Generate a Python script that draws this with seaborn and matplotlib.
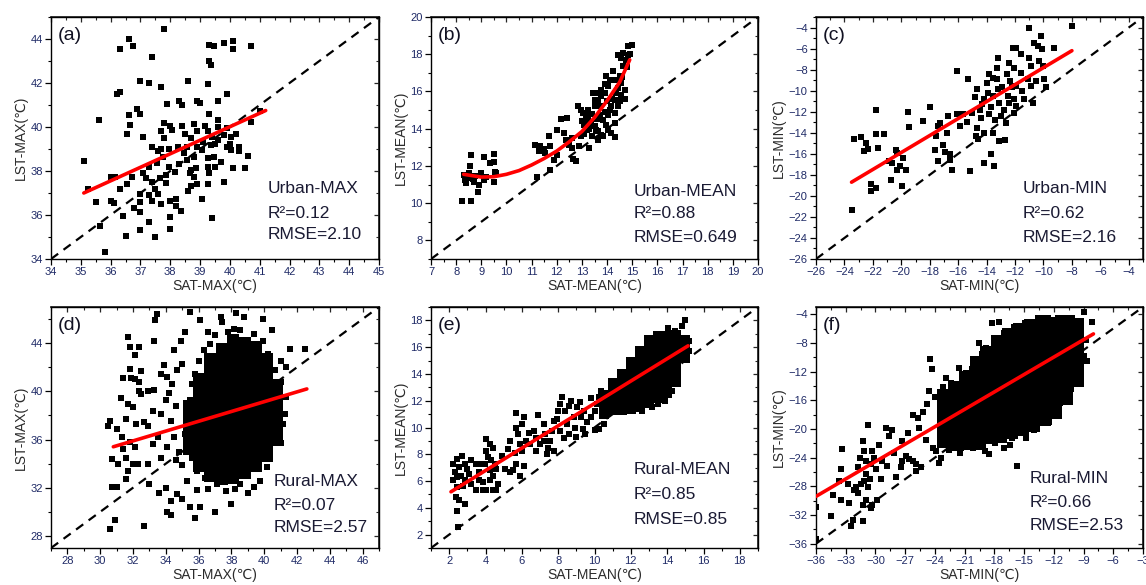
import matplotlib.pyplot as plt
import seaborn as sns
from matplotlib.ticker import MultipleLocator, AutoMinorLocator

# ---------------- data ----------------
# (a) Urban-MAX  (SAT, LST)
urban_max_pts = [
    (35.6, 40.3), (35.1, 38.45), (37.8, 44.45), (36.6, 44.0), (36.3, 43.55), (36.75, 43.7),
    (37.4, 43.2), (39.3, 43.75), (39.45, 43.7), (39.8, 43.8), (40.1, 43.9), (40.1, 43.55),
    (40.7, 43.7), (39.3, 43.0), (39.35, 42.8), (37.0, 42.1), (37.3, 42.0), (38.6, 42.1),
    (39.25, 41.95), (37.7, 41.8), (36.3, 41.6), (36.2, 41.5), (39.9, 41.5), (38.9, 41.2),
    (39.0, 41.1), (38.3, 41.2), (38.4, 41.0), (37.9, 41.05), (39.6, 41.2), (36.9, 40.8),
    (37.0, 40.6), (36.6, 40.55), (36.65, 40.1), (36.55, 39.7), (37.1, 39.55), (39.3, 40.6),
    (37.8, 40.2), (38.0, 40.05), (38.4, 40.05), (38.8, 40.15), (39.6, 40.0), (39.9, 39.95),
    (40.2, 39.7), (40.05, 39.55), (38.5, 39.7), (38.7, 39.5), (38.9, 39.1), (39.4, 39.55),
    (39.6, 39.4), (40.0, 39.25), (40.3, 39.1), (40.05, 38.95), (40.3, 38.9), (40.1, 38.15),
    (40.5, 38.15), (40.6, 38.7), (40.7, 40.25), (41.0, 40.75), (39.7, 38.4), (39.25, 38.6),
    (37.4, 39.1), (37.6, 38.9), (37.7, 39.0), (37.1, 37.9), (37.2, 37.7), (37.4, 37.5),
    (37.6, 36.95), (37.3, 36.9), (37.4, 36.65), (37.0, 36.95), (37.0, 36.6), (37.0, 36.15),
    (36.8, 36.3), (37.0, 35.3), (37.3, 35.7), (37.5, 35.0), (36.5, 35.05), (36.4, 35.95),
    (36.0, 36.65), (36.1, 36.55), (35.5, 36.6), (35.65, 35.5), (35.8, 34.3), (36.3, 37.2),
    (36.55, 37.4), (36.0, 37.75), (36.15, 37.75), (35.25, 37.2), (36.7, 37.75), (37.7, 36.5),
    (38.0, 36.65), (38.2, 36.75), (38.2, 36.4), (38.35, 36.2), (38.0, 35.9), (38.0, 35.35),
    (37.85, 37.8), (37.95, 38.2), (38.15, 37.95), (38.3, 38.3), (38.45, 38.8), (38.55, 39.1),
    (38.65, 37.9), (38.8, 37.75), (38.6, 37.1), (38.9, 37.4), (39.05, 36.75), (39.4, 35.85),
    (39.5, 39.25), (39.05, 38.95), (39.1, 39.3), (39.25, 39.8), (38.9, 39.8), (38.7, 38.05),
    (39.3, 37.9), (39.5, 38.2), (39.25, 38.2), (38.05, 39.85), (37.7, 39.8), (37.8, 39.5),
    (37.95, 39.0), (38.25, 39.1), (37.75, 38.65), (37.55, 38.35), (37.3, 38.2), (37.65, 37.7),
    (37.85, 37.45), (37.5, 37.2), (38.7, 37.3), (39.25, 37.4), (39.8, 37.5), (39.9, 39.1),
    (39.8, 39.65), (39.6, 40.3), (39.45, 38.65), (38.8, 38.65), (38.55, 38.5), (39.15, 40.05),
    (39.35, 39.2), (38.85, 38.15),
]

# (b) Urban-MEAN
urban_mean_pts = [
    (8.25, 10.1), (8.6, 10.1), (8.6, 12.6), (8.55, 12.0), (8.35, 11.25), (8.4, 11.1),
    (8.7, 11.15), (8.3, 11.5), (8.5, 11.6), (8.9, 11.0), (8.85, 10.6), (9.1, 12.5),
    (9.5, 12.65), (9.5, 12.2), (9.35, 12.15), (9.1, 11.25), (9.5, 11.15), (9.6, 11.6),
    (9.55, 11.7), (9.0, 11.6), (8.75, 11.45), (8.45, 11.35), (8.65, 11.3), (9.2, 11.4),
    (11.15, 13.1), (11.35, 13.05), (11.2, 11.4), (11.55, 12.7), (11.75, 13.05), (11.7, 13.6),
    (12.0, 13.95), (12.15, 14.5), (12.4, 14.55), (11.75, 11.8), (12.0, 12.6), (12.35, 13.4),
    (12.3, 13.75), (12.6, 13.5), (12.6, 12.95), (12.65, 12.35), (12.75, 12.25), (12.85, 15.2),
    (12.95, 15.0), (12.95, 13.6), (12.9, 13.05), (13.3, 12.95), (13.2, 13.95), (11.5, 12.9),
    (11.9, 12.3), (12.5, 13.1), (11.3, 12.8),
    (13.03, 14.84), (13.17, 14.66), (13.23, 14.48), (13.37, 14.3), (13.5, 14.12), (13.64, 13.85),
    (13.23, 15.02), (13.5, 15.2), (13.64, 15.47), (13.77, 15.73), (13.9, 15.91), (13.5, 15.56),
    (13.7, 14.75), (13.84, 14.48), (13.97, 14.21), (14.04, 13.94), (14.17, 13.76), (14.31, 13.58),
    (13.77, 13.67), (13.64, 13.4), (13.84, 13.6), (14.04, 14.75), (14.17, 15.2), (14.31, 15.56),
    (14.44, 16.18), (14.57, 16.45), (14.17, 16.63), (14.04, 16.27), (14.31, 14.84), (14.44, 15.2),
    (14.57, 15.82), (14.71, 16.09), (14.5, 16.81), (14.64, 17.35), (14.77, 17.71), (14.84, 17.97),
    (14.64, 18.06), (14.84, 18.42), (14.98, 18.51), (14.44, 17.97), (14.57, 17.8), (14.37, 15.91),
    (14.24, 17.08), (13.9, 16.4), (13.77, 16.1), (13.6, 15.9), (13.3, 14.0), (13.4, 13.6),
    (13.1, 14.2), (14.1, 15.0), (14.3, 14.3), (14.5, 15.5), (14.7, 15.6), (14.9, 18.0),
    (14.1, 16.6), (13.95, 16.85), (14.4, 16.6), (14.0, 15.5), (13.7, 15.2), (13.4, 14.8),
    (13.6, 14.5), (13.9, 14.9), (14.2, 15.6), (14.6, 16.8), (14.8, 17.3), (13.2, 14.6),
    (13.0, 14.4), (13.45, 15.9), (13.1, 13.7), (13.55, 13.95),
]

# (c) Urban-MIN
urban_min_pts = [
    (-23.5, -21.3), (-23.3, -14.6), (-22.8, -14.4), (-22.45, -15.0), (-22.35, -15.5), (-22.6, -15.75),
    (-21.75, -11.8), (-21.75, -14.15), (-21.2, -14.15), (-21.65, -15.45), (-22.1, -18.9), (-22.15, -19.55),
    (-21.8, -19.25), (-20.9, -16.7), (-20.65, -16.85), (-20.7, -18.45), (-20.4, -15.6), (-20.3, -15.9),
    (-20.3, -17.5), (-20.1, -17.2), (-19.85, -16.4), (-19.7, -17.5), (-19.95, -19.1), (-19.55, -12.0),
    (-19.45, -13.5), (-18.45, -12.9), (-18.0, -11.6), (-17.6, -15.6), (-17.55, -14.3), (-17.4, -13.35),
    (-17.25, -13.1), (-17.4, -16.7), (-17.05, -15.2), (-16.95, -15.85), (-16.8, -14.0), (-16.75, -12.4),
    (-16.6, -16.55), (-16.6, -16.0), (-16.45, -17.55), (-16.1, -8.15), (-16.05, -12.25), (-15.9, -13.35),
    (-15.3, -8.9), (-15.2, -17.65), (-15.4, -13.0), (-15.65, -12.25), (-15.05, -12.1), (-14.85, -10.65),
    (-14.7, -9.85), (-14.7, -13.55), (-14.75, -14.3), (-14.6, -14.6), (-14.5, -11.8), (-14.2, -16.85),
    (-14.15, -14.0), (-14.3, -11.3), (-14.15, -10.8), (-14.0, -9.25), (-13.8, -12.25), (-13.7, -11.6),
    (-13.55, -10.5), (-13.7, -16.05), (-13.5, -17.2), (-13.55, -14.0), (-13.85, -8.45), (-13.55, -8.75),
    (-13.2, -6.85), (-13.3, -7.8), (-13.3, -8.9), (-13.2, -9.85), (-13.1, -11.15), (-13.0, -12.4),
    (-12.75, -11.8), (-12.65, -13.05), (-12.7, -14.65), (-13.15, -14.8), (-12.6, -8.45), (-12.4, -7.35),
    (-12.35, -9.1), (-12.2, -9.7), (-12.15, -5.9), (-11.95, -5.9), (-12.05, -7.8), (-11.95, -9.55),
    (-12.05, -10.8), (-11.95, -11.45), (-12.1, -12.15), (-11.6, -6.55), (-11.6, -8.3), (-11.5, -10.0),
    (-11.35, -10.8), (-11.1, -8.9), (-11.0, -4.0), (-11.0, -6.85), (-10.9, -7.65), (-10.9, -9.55),
    (-10.75, -11.15), (-10.55, -9.1), (-10.65, -5.45), (-10.4, -5.75), (-10.2, -4.8), (-10.1, -6.05),
    (-10.05, -7.65), (-9.95, -8.9), (-9.85, -9.7), (-9.25, -5.9), (-8.0, -3.85), (-10.3, -7.2),
    (-12.9, -9.7), (-12.5, -10.5), (-12.4, -11.15), (-13.9, -10.2), (-14.4, -12.6), (-13.4, -12.8),
]

# (d) Rural-MAX: scattered points and the dense core (columns of SAT with LST rows)
rural_max_pts = [
    (33.45, 46.4), (33.35, 45.9), (35.5, 46.6), (36.1, 45.9), (37.35, 46.2), (37.45, 45.75),
    (38.3, 46.5), (38.75, 46.15), (39.95, 46.0), (40.45, 45.1), (31.7, 44.5), (31.8, 43.65),
    (32.35, 43.65), (32.1, 43.0), (33.3, 44.2), (31.8, 41.85), (31.9, 41.1), (31.4, 41.1),
    (32.1, 41.05), (32.35, 40.75), (32.5, 41.7), (32.35, 40.05), (32.5, 39.8), (32.9, 40.05),
    (33.25, 40.15), (31.25, 39.45), (31.7, 38.95), (32.0, 38.7), (31.6, 37.7), (30.6, 37.55),
    (30.5, 37.15), (31.0, 36.9), (32.2, 37.3), (32.7, 37.45), (32.9, 37.15), (33.7, 41.45),
    (34.05, 41.2), (34.2, 39.9), (34.0, 39.25), (34.5, 43.4), (34.9, 44.2), (35.0, 42.3),
    (34.7, 41.75), (30.7, 34.4), (31.1, 34.0), (31.6, 34.5), (32.0, 34.0), (32.3, 34.0),
    (30.7, 32.05), (31.0, 32.05), (31.6, 32.7), (31.7, 33.4), (32.9, 34.0), (33.0, 32.3),
    (33.6, 31.6), (34.0, 32.0), (34.3, 30.9), (34.05, 30.0), (34.3, 29.7), (30.6, 28.6),
    (30.9, 29.3), (32.7, 28.8), (34.7, 31.5), (35.0, 31.1), (35.5, 30.4), (36.1, 30.4),
    (35.8, 29.45), (37.0, 29.95), (37.95, 30.65), (33.5, 36.2), (33.2, 35.65), (33.7, 34.5),
    (34.1, 35.35), (34.5, 36.2), (33.2, 38.4), (33.7, 38.1), (34.3, 37.55), (34.6, 38.8),
    (31.3, 36.2), (31.8, 35.8), (31.4, 35.2), (32.1, 35.35), (41.05, 42.55), (41.35, 42.0),
    (41.55, 43.5), (42.5, 43.5), (41.05, 40.75), (41.35, 39.5), (41.25, 38.15), (41.15, 37.3),
    (40.35, 34.65), (40.55, 35.9), (40.15, 33.7), (39.75, 32.6), (39.35, 32.05), (38.55, 32.3),
    (37.15, 32.3), (36.4, 32.85), (35.9, 33.4), (35.6, 34.5), (35.3, 35.35), (35.2, 36.45),
    (35.3, 37.85), (35.5, 39.25), (35.6, 40.6), (35.8, 41.45), (36.0, 42.55), (36.3, 43.4),
    (36.7, 43.95), (37.0, 44.65), (38.15, 45.2), (38.55, 45.05), (39.35, 44.8), (39.95, 44.2),
    (40.25, 43.1), (40.65, 41.75), (34.8, 35.0), (35.0, 33.9), (34.6, 34.3), (36.6, 31.9),
    (37.7, 31.7), (38.2, 31.9), (39.0, 31.6), (35.9, 31.8), (35.3, 32.6), (34.4, 40.6),
    (33.9, 42.2), (35.2, 44.9), (36.6, 44.9), (37.8, 44.9), (40.7, 36.8), (41.0, 35.7),
]
rural_max_core_sat = [35.4, 36.0, 36.7, 37.4, 38.1, 38.8, 39.5, 40.2, 40.8]
rural_max_core_lst = [
    [35.2, 36.1, 37.0, 37.9, 38.8],
    [33.8, 34.7, 35.6, 36.5, 37.4, 38.3, 39.2, 40.1, 41.0],
    [33.0, 33.9, 34.8, 35.7, 36.6, 37.5, 38.4, 39.3, 40.2, 41.1, 42.0, 42.7],
    [32.7, 33.6, 34.5, 35.4, 36.3, 37.2, 38.1, 39.0, 39.9, 40.8, 41.7, 42.6, 43.5],
    [32.8, 33.7, 34.6, 35.5, 36.4, 37.3, 38.2, 39.1, 40.0, 40.9, 41.8, 42.7, 43.6, 44.3],
    [33.2, 34.1, 35.0, 35.9, 36.8, 37.7, 38.6, 39.5, 40.4, 41.3, 42.2, 43.1, 44.0],
    [33.8, 34.7, 35.6, 36.5, 37.4, 38.3, 39.2, 40.1, 41.0, 41.9, 42.8, 43.7],
    [34.6, 35.5, 36.4, 37.3, 38.2, 39.1, 40.0, 40.9, 41.8, 42.7],
    [36.0, 36.9, 37.8, 38.7, 39.6, 40.5],
]

# (e) Rural-MEAN
rural_mean_pts = [
    (2.2, 6.05), (2.3, 6.65), (2.2, 7.3), (2.45, 7.65), (2.7, 7.9), (2.55, 7.05), (2.85, 7.3),
    (2.45, 6.3), (2.65, 6.4), (2.85, 6.05), (2.45, 5.55), (2.75, 5.65), (2.35, 4.8), (2.55, 4.55),
    (2.45, 3.75), (2.85, 4.3), (2.5, 2.6), (3.2, 7.55), (3.1, 6.55), (3.2, 5.75), (3.5, 5.3),
    (3.85, 5.3), (3.65, 6.05), (3.65, 6.65), (3.95, 7.3), (4.0, 8.25), (4.05, 9.15), (4.25, 8.75),
    (4.4, 8.5), (4.15, 7.8), (4.3, 7.55), (4.5, 7.3), (4.25, 6.8), (4.4, 6.4), (4.6, 6.9),
    (3.85, 5.9), (4.25, 6.05), (4.05, 5.3), (4.4, 5.3), (4.7, 5.8), (4.6, 5.3), (3.65, 7.3),
    (3.5, 7.3), (5.05, 6.9), (5.35, 6.65), (5.5, 6.8), (5.25, 8.4), (5.35, 9.0), (5.7, 11.1),
    (5.7, 10.0), (5.8, 9.5), (6.0, 10.25), (6.1, 10.75), (5.9, 8.75), (6.0, 8.25), (5.7, 7.3),
    (6.1, 7.15), (5.9, 6.4), (6.25, 9.0), (6.45, 8.75), (6.65, 9.75), (6.8, 9.25), (6.9, 10.9),
    (7.2, 10.25), (7.3, 9.5), (7.0, 8.75), (6.8, 8.25), (7.45, 8.5), (7.55, 9.0), (7.65, 9.75),
    (7.75, 10.5), (7.95, 10.6), (7.75, 8.25), (7.4, 8.0), (8.1, 11.75), (8.2, 12.25), (8.4, 11.25),
    (8.5, 10.25), (8.6, 9.5), (8.7, 12.0), (8.1, 9.75), (8.3, 9.25), (8.85, 10.75), (9.05, 11.5),
    (8.95, 10.0), (9.25, 10.75), (9.35, 9.9), (9.5, 9.5), (9.4, 11.25), (9.6, 10.4), (9.8, 10.75),
    (10.0, 11.25), (10.15, 11.75), (10.25, 12.25), (10.35, 12.75), (10.25, 9.9), (10.55, 10.25),
    (10.7, 11.0), (10.9, 11.75), (10.9, 13.0), (11.1, 13.25), (10.7, 12.5), (15.0, 18.05),
    (14.8, 17.6), (14.45, 17.2), (15.2, 16.45), (14.9, 15.2), (15.2, 15.7), (14.05, 17.45),
    (14.25, 12.75), (13.9, 12.0), (13.5, 11.75), (13.15, 11.5), (12.6, 11.25), (12.0, 11.25),
    (8.0, 11.2), (8.6, 11.6), (9.2, 11.9), (9.8, 12.2), (10.4, 11.5), (9.0, 9.3), (10.0, 9.8),
    (7.2, 9.0), (6.4, 9.6), (5.6, 8.1), (3.0, 6.9), (4.9, 7.9),
]
rural_mean_core_sat = [10.5, 11.0, 11.5, 12.0, 12.5, 13.0, 13.5, 14.0, 14.5, 15.0]
rural_mean_core_lst = [
    [11.0, 11.7, 12.4],
    [11.3, 12.0, 12.7, 13.3],
    [11.3, 12.0, 12.7, 13.4, 14.0],
    [11.4, 12.1, 12.8, 13.5, 14.2, 14.9],
    [11.5, 12.2, 12.9, 13.6, 14.3, 15.0, 15.7],
    [11.8, 12.5, 13.2, 13.9, 14.6, 15.3, 16.0, 16.5],
    [12.2, 12.9, 13.6, 14.3, 15.0, 15.7, 16.4, 16.8],
    [12.6, 13.3, 14.0, 14.7, 15.4, 16.1, 16.8],
    [13.4, 14.1, 14.8, 15.5, 16.2, 16.9],
    [15.2, 15.9, 16.5],
]

# (f) Rural-MIN
rural_min_pts = [
    (-35.95, -30.95), (-35.95, -35.3), (-34.5, -32.2), (-34.25, -29.25), (-33.5, -25.6), (-33.4, -22.85),
    (-33.65, -27.2), (-32.8, -27.65), (-33.5, -29.95), (-32.7, -30.3), (-32.5, -33.6), (-32.3, -32.7),
    (-32.15, -28.55), (-31.8, -29.0), (-32.0, -28.1), (-31.45, -27.65), (-31.3, -21.7), (-31.15, -23.1),
    (-31.6, -24.0), (-30.95, -24.45), (-31.8, -25.35), (-30.95, -26.3), (-30.6, -26.95), (-31.15, -27.2),
    (-30.8, -28.1), (-31.3, -30.6), (-30.95, -29.95), (-31.25, -32.9), (-30.8, -19.45), (-30.3, -23.1),
    (-30.15, -24.0), (-30.45, -24.9), (-29.95, -25.6), (-30.3, -30.6), (-29.8, -29.95), (-30.45, -31.05),
    (-29.6, -22.2), (-29.3, -24.45), (-29.45, -26.95), (-28.95, -19.9), (-28.3, -20.1), (-28.6, -21.0),
    (-28.8, -25.15), (-28.1, -23.3), (-27.95, -26.75), (-27.45, -25.35), (-27.3, -24.45), (-26.95, -23.75),
    (-26.6, -24.25), (-26.25, -24.45), (-25.9, -24.9), (-25.4, -25.35), (-25.9, -25.85), (-27.3, -21.7),
    (-26.75, -20.55), (-26.25, -18.05), (-25.75, -18.5), (-25.25, -17.6), (-24.6, -14.65), (-24.45, -10.3),
    (-24.25, -11.65), (-22.9, -12.95), (-21.55, -11.45), (-23.6, -24.7), (-23.4, -24.0), (-23.9, -23.1),
    (-20.9, -22.2), (-20.2, -22.65), (-18.9, -23.1), (-18.55, -23.55), (-19.4, -19.9), (-17.05, -22.6),
    (-16.4, -22.2), (-15.7, -25.15), (-16.2, -21.3), (-14.85, -21.25), (-12.5, -19.0), (-11.35, -16.45),
    (-13.15, -17.35), (-19.55, -8.0), (-19.2, -9.6), (-18.2, -5.3), (-17.55, -5.15), (-12.2, -5.05),
    (-10.15, -4.6), (-9.0, -3.7), (-8.15, -5.05), (-8.8, -7.55), (-9.0, -9.85), (-8.65, -10.55),
    (-10.85, -12.8), (-10.5, -11.2), (-11.15, -13.95), (-11.85, -15.8), (-24.8, -16.5), (-25.6, -19.8),
    (-24.9, -21.5), (-24.2, -22.6), (-22.6, -23.0), (-21.5, -23.4), (-24.0, -15.6), (-23.2, -14.2),
    (-22.4, -13.6), (-20.9, -12.2), (-20.3, -11.6), (-18.8, -8.7), (-17.0, -6.6), (-16.0, -5.8),
    (-14.9, -5.2), (-13.6, -4.7), (-11.6, -4.6), (-9.3, -6.2), (-9.4, -12.0), (-10.3, -14.4),
    (-12.6, -18.0), (-14.0, -20.2), (-17.9, -21.9), (-19.6, -22.5),
]
rural_min_core_sat = [-23.0, -21.9, -20.8, -19.7, -18.6, -17.5, -16.4, -15.3, -14.2, -13.1, -12.0, -10.9, -9.8]
rural_min_core_lst = [
    [-21.5, -20.0, -18.5, -17.0, -15.5],
    [-22.0, -20.5, -19.0, -17.5, -16.0, -14.5],
    [-21.8, -20.3, -18.8, -17.3, -15.8, -14.3, -13.0],
    [-21.5, -20.0, -18.5, -17.0, -15.5, -14.0, -12.5, -11.0],
    [-21.0, -19.5, -18.0, -16.5, -15.0, -13.5, -12.0, -10.5, -9.5],
    [-20.8, -19.3, -17.8, -16.3, -14.8, -13.3, -11.8, -10.3, -8.8, -8.0],
    [-20.3, -18.8, -17.3, -15.8, -14.3, -12.8, -11.3, -9.8, -8.3, -7.0],
    [-19.8, -18.3, -16.8, -15.3, -13.8, -12.3, -10.8, -9.3, -7.8, -6.3],
    [-19.3, -17.8, -16.3, -14.8, -13.3, -11.8, -10.3, -8.8, -7.3, -5.8],
    [-18.5, -17.0, -15.5, -14.0, -12.5, -11.0, -9.5, -8.0, -6.5, -5.2],
    [-17.5, -16.0, -14.5, -13.0, -11.5, -10.0, -8.5, -7.0, -5.5],
    [-15.5, -14.0, -12.5, -11.0, -9.5, -8.0, -6.5, -5.2],
    [-13.0, -11.5, -10.0, -8.5, -7.0, -5.6],
]

# fitted lines
fit_urban_max = ([35.1, 41.2], [37.0, 40.75])
fit_urban_mean = ([8.3, 9.0, 9.5, 10.0, 10.5, 11.0, 11.5, 12.0, 12.5, 13.0, 13.5, 14.0, 14.5, 14.9],
                  [11.55, 11.4, 11.42, 11.55, 11.75, 12.05, 12.4, 12.8, 13.3, 13.85, 14.6, 15.5, 16.5, 17.7])
fit_urban_min = ([-23.5, -8.0], [-18.7, -6.2])
fit_rural_max = ([30.8, 42.6], [35.4, 40.2])
fit_rural_mean = ([2.1, 15.15], [5.2, 16.1])
fit_rural_min = ([-36.0, -8.0], [-29.4, -6.75])

panel_tags = ['(a)', '(b)', '(c)', '(d)', '(e)', '(f)']
panel_names = ['Urban-MAX', 'Urban-MEAN', 'Urban-MIN', 'Rural-MAX', 'Rural-MEAN', 'Rural-MIN']
r2_values = ['0.12', '0.88', '0.62', '0.07', '0.85', '0.66']
rmse_values = ['2.10', '0.649', '2.16', '2.57', '0.85', '2.53']
var_names = ['MAX', 'MEAN', 'MIN', 'MAX', 'MEAN', 'MIN']


def unzip(pts):
    return [p[0] for p in pts], [p[1] for p in pts]


def columns(sat, rows):
    xs, ys = [], []
    for c, r in zip(sat, rows):
        xs += [c] * len(r)
        ys += r
    return xs, ys


sns.set_theme(style="ticks")
plt.rcParams['font.family'] = ['Liberation Sans', 'DejaVu Sans']

TICK_C = '#1f2a66'
LAB_C = '#2b2b2b'

fig = plt.figure(figsize=(11.46, 5.85), dpi=100)
W, H = 1146, 585
boxes = [(51, 17, 328, 242), (431, 17, 327, 242), (816, 17, 327, 242),
         (51, 307, 328, 241), (431, 307, 327, 241), (816, 307, 327, 241)]

limits = [((34, 45), (34, 45)), ((7, 20), (7, 20)), ((-26, -3), (-26, -3)),
          ((27, 47), (27, 47)), ((1, 19), (1, 19)), ((-36, -3), (-36.6, -3))]
xsteps = [1, 1, 2, 2, 2, 3]
ysteps = [2, 2, 2, 4, 2, 4]

scatter_sets = [urban_max_pts, urban_mean_pts, urban_min_pts,
                rural_max_pts, rural_mean_pts, rural_min_pts]
core_sets = [None, None, None,
             (rural_max_core_sat, rural_max_core_lst, 80),
             (rural_mean_core_sat, rural_mean_core_lst, 60),
             (rural_min_core_sat, rural_min_core_lst, 120)]
fits = [fit_urban_max, fit_urban_mean, fit_urban_min,
        fit_rural_max, fit_rural_mean, fit_rural_min]

text_x = [0.66, 0.62, 0.633, 0.68, 0.62, 0.654]
text_y = [(0.293, 0.19, 0.10), (0.28, 0.19, 0.087), (0.293, 0.19, 0.09),
          (0.274, 0.178, 0.083), (0.324, 0.22, 0.12), (0.29, 0.187, 0.095)]

for i in range(6):
    l, t, w, h = boxes[i]
    ax = fig.add_axes([l / W, (H - t - h) / H, w / W, h / H])
    (x0, x1), (y0, y1) = limits[i]

    # 1:1 reference line
    ax.plot([x0, x1], [x0, x1], color='black', lw=1.6, ls=(0, (4, 3)), zorder=1)

    if core_sets[i] is not None:
        cx, cy = columns(core_sets[i][0], core_sets[i][1])
        sns.scatterplot(x=cx, y=cy, ax=ax, marker='s', color='black', s=core_sets[i][2],
                        linewidth=0, zorder=2)
    sx, sy = unzip(scatter_sets[i])
    sns.scatterplot(x=sx, y=sy, ax=ax, marker='s', color='black', s=14, linewidth=0, zorder=2)

    fx, fy = fits[i]
    sns.lineplot(x=fx, y=fy, ax=ax, color='#ff0000', lw=2.6, sort=False, zorder=3)

    ax.set_xlim(x0, x1)
    ax.set_ylim(y0, y1)
    ax.xaxis.set_major_locator(MultipleLocator(xsteps[i]))
    ax.yaxis.set_major_locator(MultipleLocator(ysteps[i]))
    ax.xaxis.set_minor_locator(AutoMinorLocator(2))
    ax.yaxis.set_minor_locator(AutoMinorLocator(2))
    ax.tick_params(which='major', direction='out', length=4, width=0.9, color='black',
                   labelsize=8, labelcolor=TICK_C, pad=2)
    ax.tick_params(which='minor', direction='out', length=2.2, width=0.8, color='black')
    for sp in ax.spines.values():
        sp.set_linewidth(1.0)
        sp.set_color('black')

    top = ax.secondary_xaxis('top')
    top.xaxis.set_major_locator(MultipleLocator(xsteps[i]))
    top.xaxis.set_minor_locator(AutoMinorLocator(2))
    top.tick_params(which='major', direction='in', length=3.5, width=0.9, labeltop=False)
    top.tick_params(which='minor', direction='in', length=2, width=0.8)
    right = ax.secondary_yaxis('right')
    right.yaxis.set_major_locator(MultipleLocator(ysteps[i]))
    right.yaxis.set_minor_locator(AutoMinorLocator(2))
    right.tick_params(which='major', direction='in', length=3.5, width=0.9, labelright=False)
    right.tick_params(which='minor', direction='in', length=2, width=0.8)

    ax.set_xlabel(f'SAT-{var_names[i]}(℃)', fontsize=10, color=LAB_C, labelpad=1)
    ax.set_ylabel(f'LST-{var_names[i]}(℃)', fontsize=10, color=LAB_C, labelpad=2)

    ax.text(0.022, 0.925, panel_tags[i], transform=ax.transAxes, fontsize=14,
            ha='left', va='center', color='#111122')
    tx = text_x[i]
    ty = text_y[i]
    ax.text(tx, ty[0], panel_names[i], transform=ax.transAxes, fontsize=12.5,
            ha='left', va='center', color='#1a1a33')
    ax.text(tx, ty[1], f'R²={r2_values[i]}', transform=ax.transAxes, fontsize=12.5,
            ha='left', va='center', color='#1a1a33')
    ax.text(tx, ty[2], f'RMSE={rmse_values[i]}', transform=ax.transAxes, fontsize=12.5,
            ha='left', va='center', color='#1a1a33')

fig.savefig('out.png', dpi=100)
